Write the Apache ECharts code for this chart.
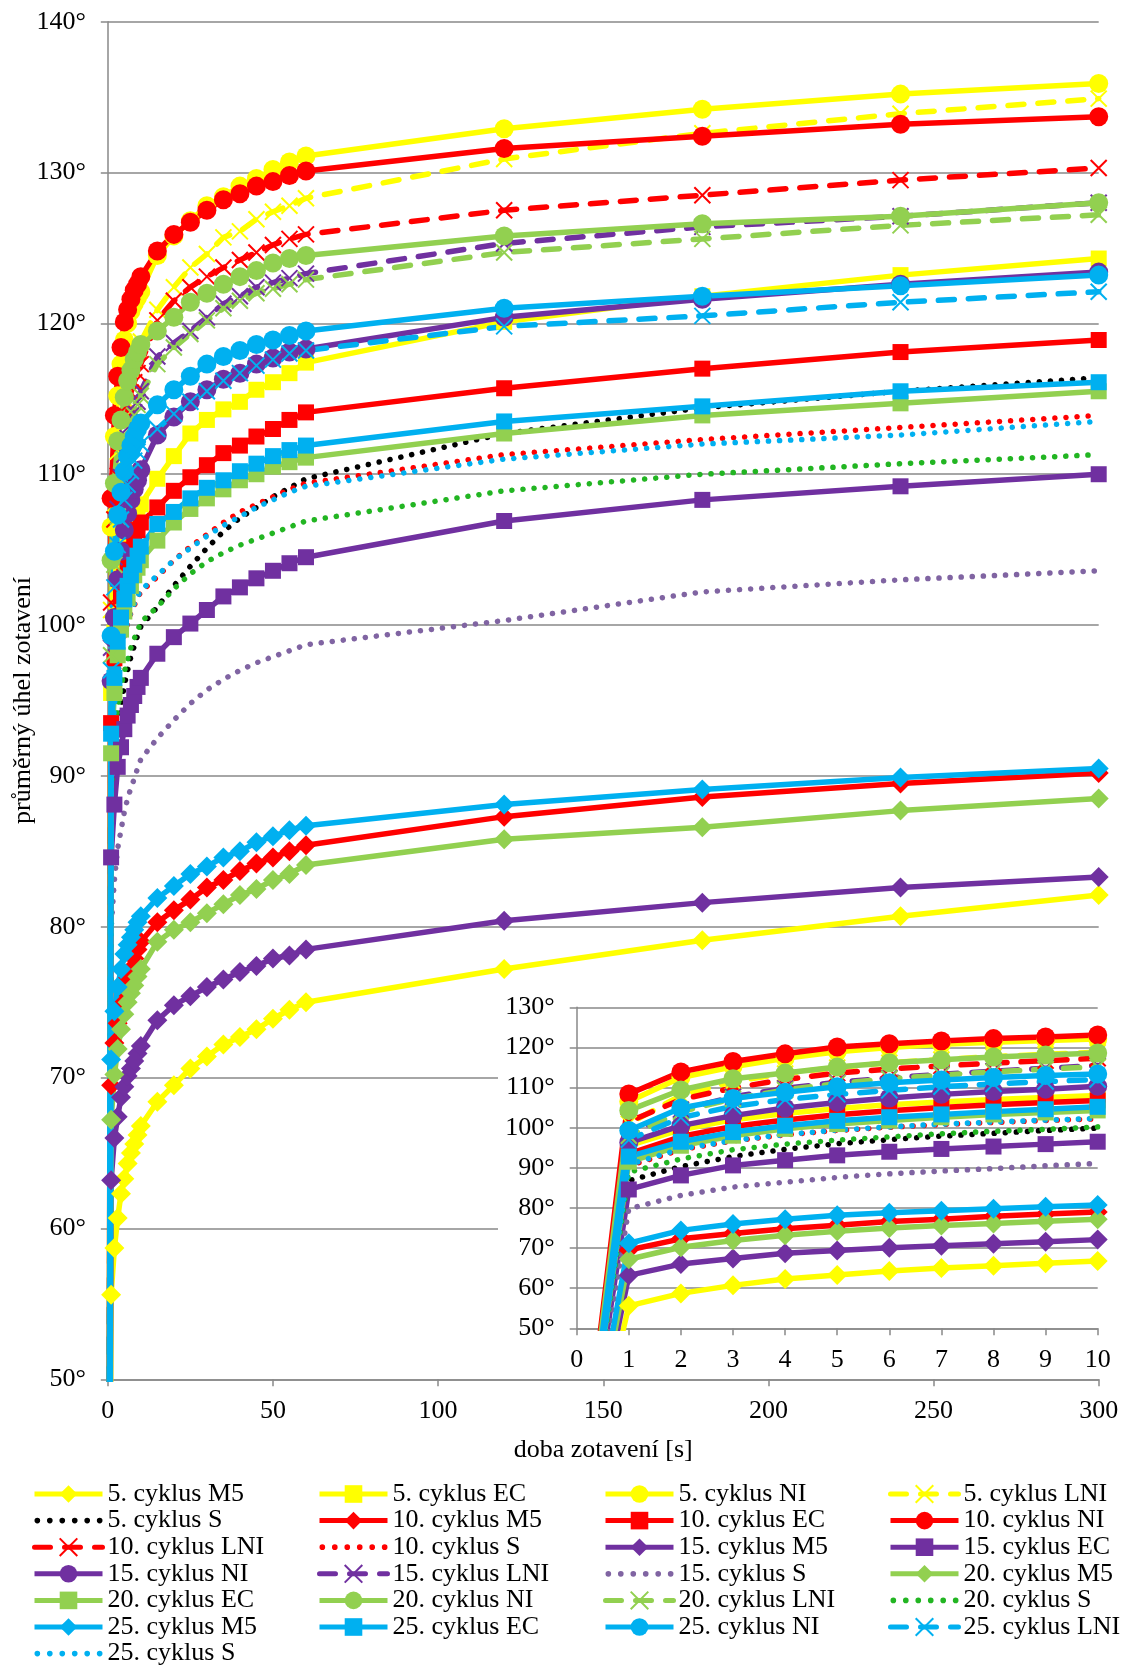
<!DOCTYPE html>
<html>
<head>
<meta charset="utf-8">
<script src="https://cdn.jsdelivr.net/npm/echarts@6/dist/echarts.min.js"></script>
<style>
html,body{margin:0;padding:0;background:#fff;}
#chart{width:1138px;height:1667px;}
</style>
</head>
<body>
<div id="chart"></div>
<script>
// time points [s]
const times = [0,1,2,3,4,5,6,7,8,9,10,15,20,25,30,35,40,45,50,55,60,120,180,240,300];

// values per series (deg), one value per time point
const c5_M5  = [0,55.6,58.7,60.7,62.3,63.3,64.3,65.0,65.6,66.2,66.8,68.4,69.5,70.6,71.4,72.2,72.7,73.2,73.9,74.5,75.0,77.2,79.1,80.7,82.1];
const c5_EC  = [0,95.5,99.5,102.0,103.5,104.8,105.7,106.4,107.0,107.5,108.0,109.7,111.2,112.7,113.6,114.3,114.8,115.6,116.1,116.7,117.4,120.1,121.8,123.2,124.3];
const c5_NI  = [0,106.5,112.5,115.2,117.3,118.9,120.0,120.8,121.3,121.7,122.1,124.5,125.8,126.8,127.8,128.4,129.1,129.6,130.2,130.7,131.1,132.9,134.2,135.2,135.9];
const c5_LNI = [0,101.0,108.0,111.5,113.5,115.0,116.2,117.0,117.7,118.3,118.8,120.9,122.4,123.7,124.6,125.7,126.1,126.9,127.4,127.8,128.3,130.9,132.6,133.9,134.9];
const c5_S   = [0,86.8,90.3,92.8,94.6,96.0,97.0,97.9,98.6,99.3,99.9,101.2,102.6,103.9,105.1,106.2,107.1,107.8,108.5,109.1,109.7,112.7,114.4,115.5,116.4];

const c10_M5  = [0,69.5,72.3,73.6,74.8,75.7,76.6,77.2,77.9,78.5,79.0,80.3,81.1,81.8,82.6,83.1,83.7,84.2,84.6,85.0,85.4,87.3,88.6,89.5,90.2];
const c10_EC  = [0,93.5,97.8,100.3,101.9,103.2,104.2,105.0,105.7,106.3,106.8,107.8,108.9,109.8,110.6,111.4,111.9,112.5,113.0,113.6,114.1,115.7,117.0,118.1,118.9];
const c10_NI  = [0,108.4,113.9,116.5,118.4,120.1,120.9,121.6,122.2,122.6,123.1,124.8,125.9,126.7,127.5,128.2,128.6,129.1,129.4,129.8,130.1,131.6,132.4,133.2,133.7];
const c10_LNI = [0,101.5,107.0,109.9,112.0,113.6,114.6,115.4,116.1,116.7,117.3,120.2,121.5,122.4,123.1,123.7,124.2,124.7,125.2,125.6,125.9,127.5,128.5,129.5,130.3];
const c10_S   = [0,90.5,94.5,96.7,98.2,99.3,100.1,100.8,101.3,101.8,102.2,103.2,104.3,105.2,106.0,106.8,107.5,108.0,108.5,109.0,109.4,111.3,112.3,113.1,113.9];

const c15_M5  = [0,63.2,66.0,67.4,68.7,69.4,70.1,70.6,71.1,71.6,72.1,73.8,74.8,75.4,76.0,76.5,77.0,77.4,77.9,78.1,78.5,80.4,81.6,82.6,83.3];
const c15_EC  = [0,84.6,88.1,90.6,91.9,93.1,94.0,94.7,95.3,95.9,96.5,98.1,99.2,100.1,101.0,101.9,102.5,103.1,103.6,104.1,104.5,106.9,108.3,109.2,110.0];
const c15_NI  = [0,96.3,100.5,103.0,104.9,106.3,107.4,108.3,109.0,109.6,110.3,112.6,113.8,114.8,115.6,116.3,116.7,117.3,117.7,118.1,118.3,120.4,121.6,122.6,123.4];
const c15_LNI = [0,98.5,104.5,107.7,109.8,111.3,112.4,113.3,114.1,114.8,115.5,117.8,118.7,119.5,120.4,121.3,121.8,122.4,122.7,123.0,123.3,125.3,126.4,127.1,128.0];
const c15_S   = [0,79.8,83.1,85.2,86.4,87.6,88.5,89.2,89.8,90.5,91.1,92.5,93.7,94.8,95.7,96.4,97.0,97.5,97.9,98.3,98.7,100.3,102.2,103.0,103.6];

const c20_M5  = [0,67.2,70.2,71.9,73.2,74.2,75.0,75.6,76.1,76.7,77.2,79.0,79.8,80.3,80.9,81.5,82.1,82.5,83.1,83.5,84.1,85.8,86.6,87.7,88.5];
const c20_EC  = [0,91.5,95.5,98.0,99.7,100.9,101.8,102.6,103.3,103.8,104.3,105.6,106.8,107.7,108.4,109.0,109.6,110.0,110.5,110.8,111.1,112.7,113.9,114.7,115.5];
const c20_NI  = [0,104.3,109.4,112.2,113.6,115.1,116.2,116.9,117.6,118.1,118.6,119.5,120.4,121.4,122.0,122.6,123.1,123.5,124.0,124.3,124.5,125.8,126.6,127.1,128.0];
const c20_LNI = [0,98.0,104.0,107.2,109.4,111.0,112.2,113.1,113.9,114.6,115.2,117.3,118.4,119.3,120.2,121.0,121.5,122.0,122.3,122.6,122.9,124.7,125.6,126.5,127.2];
const c20_S   = [0,88.9,92.2,94.5,95.9,96.9,97.7,98.5,99.1,99.6,100.2,101.2,102.4,103.4,104.2,104.8,105.3,105.7,106.1,106.5,106.9,108.9,110.0,110.7,111.3];

const c25_M5  = [0,71.2,74.4,76.0,77.2,78.2,78.8,79.3,79.8,80.3,80.7,81.9,82.7,83.5,84.0,84.6,85.0,85.6,86.0,86.4,86.7,88.1,89.1,89.9,90.5];
const c25_EC  = [0,92.8,96.5,98.9,100.5,101.7,102.6,103.3,104.0,104.6,105.2,106.7,107.5,108.4,109.1,109.6,110.2,110.7,111.2,111.6,111.9,113.5,114.5,115.5,116.1];
const c25_NI  = [0,99.3,104.9,107.3,108.8,110.2,111.2,111.9,112.5,113.0,113.4,114.6,115.6,116.5,117.3,117.8,118.2,118.6,118.9,119.2,119.5,121.0,121.8,122.5,123.2];
const c25_LNI = [0,97.0,102.5,105.3,107.0,108.3,109.3,110.2,110.9,111.5,112.0,113.0,114.0,114.8,115.5,116.2,116.7,117.2,117.6,118.0,118.2,119.8,120.5,121.4,122.1];
const c25_S   = [0,90.8,94.7,96.8,98.3,99.4,100.2,100.9,101.4,101.9,102.3,103.3,104.3,105.1,105.9,106.6,107.2,107.8,108.3,108.8,109.2,111.0,112.0,112.6,113.5];

// axis tick values
const mainYTicks = [50,60,70,80,90,100,110,120,130,140];
const mainXTicks = [0,50,100,150,200,250,300];
const insetYTicks = [50,60,70,80,90,100,110,120,130];
const insetXTicks = [0,1,2,3,4,5,6,7,8,9,10];

const YELLOW = '#FFFF00', RED = '#FF0000', PURPLE = '#7030A0', GREEN = '#92D050', BLUE = '#00B0F0';

const seriesDefs = [
  {name:'5. cyklus M5',  data:c5_M5,  color:YELLOW, kind:'M5'},
  {name:'5. cyklus EC',  data:c5_EC,  color:YELLOW, kind:'EC'},
  {name:'5. cyklus NI',  data:c5_NI,  color:YELLOW, kind:'NI'},
  {name:'5. cyklus LNI', data:c5_LNI, color:YELLOW, kind:'LNI'},
  {name:'5. cyklus S',   data:c5_S,   color:'#000000', kind:'S'},
  {name:'10. cyklus M5',  data:c10_M5,  color:RED, kind:'M5'},
  {name:'10. cyklus EC',  data:c10_EC,  color:RED, kind:'EC'},
  {name:'10. cyklus NI',  data:c10_NI,  color:RED, kind:'NI'},
  {name:'10. cyklus LNI', data:c10_LNI, color:RED, kind:'LNI'},
  {name:'10. cyklus S',   data:c10_S,   color:RED, kind:'S'},
  {name:'15. cyklus M5',  data:c15_M5,  color:PURPLE, kind:'M5'},
  {name:'15. cyklus EC',  data:c15_EC,  color:PURPLE, kind:'EC'},
  {name:'15. cyklus NI',  data:c15_NI,  color:PURPLE, kind:'NI'},
  {name:'15. cyklus LNI', data:c15_LNI, color:PURPLE, kind:'LNI'},
  {name:'15. cyklus S',   data:c15_S,   color:'#8064A2', kind:'S'},
  {name:'20. cyklus M5',  data:c20_M5,  color:GREEN, kind:'M5'},
  {name:'20. cyklus EC',  data:c20_EC,  color:GREEN, kind:'EC'},
  {name:'20. cyklus NI',  data:c20_NI,  color:GREEN, kind:'NI'},
  {name:'20. cyklus LNI', data:c20_LNI, color:GREEN, kind:'LNI'},
  {name:'20. cyklus S',   data:c20_S,   color:'#22B522', kind:'S'},
  {name:'25. cyklus M5',  data:c25_M5,  color:BLUE, kind:'M5'},
  {name:'25. cyklus EC',  data:c25_EC,  color:BLUE, kind:'EC'},
  {name:'25. cyklus NI',  data:c25_NI,  color:BLUE, kind:'NI'},
  {name:'25. cyklus LNI', data:c25_LNI, color:BLUE, kind:'LNI'},
  {name:'25. cyklus S',   data:c25_S,   color:BLUE, kind:'S'}
];

const FONT = 'Liberation Serif';
const GRAY = '#898989';
const CROSS = 'path://M0,0L10,10M10,0L0,10';
const DOTS = 'path://M0,2.5a2.5,2.5 0 1,0 5,0a2.5,2.5 0 1,0 -5,0M11,2.5a2.5,2.5 0 1,0 5,0a2.5,2.5 0 1,0 -5,0M22,2.5a2.5,2.5 0 1,0 5,0a2.5,2.5 0 1,0 -5,0M33,2.5a2.5,2.5 0 1,0 5,0a2.5,2.5 0 1,0 -5,0M44,2.5a2.5,2.5 0 1,0 5,0a2.5,2.5 0 1,0 -5,0M55,2.5a2.5,2.5 0 1,0 5,0a2.5,2.5 0 1,0 -5,0';
const LW = 5.5;

function makeSeries(def, idx) {
  let pts = times.map((t, i) => [t, def.data[i]]);
  if (idx === 1) pts = pts.filter(p => p[0] <= 10);
  const s = {
    name: def.name, type: 'line', xAxisIndex: idx, yAxisIndex: idx,
    data: pts, z: idx ? 6 : 2, clip: true, animation: false,
    color: def.color,
    emphasis: {disabled: true},
    lineStyle: {width: LW, color: def.color},
    itemStyle: {color: def.color}
  };
  if (def.kind === 'M5') { s.symbol = 'diamond'; s.symbolSize = 20; }
  else if (def.kind === 'EC') { s.symbol = 'rect'; s.symbolSize = 16; }
  else if (def.kind === 'NI') { s.symbol = 'circle'; s.symbolSize = 19; }
  else if (def.kind === 'LNI') {
    s.symbol = CROSS; s.symbolSize = 16;
    s.itemStyle = {color: 'rgba(255,255,255,0)', borderColor: def.color, borderWidth: 2};
    s.lineStyle = {width: LW, color: def.color, type: [16, 14], cap: 'round'};
  } else if (def.kind === 'S') {
    s.symbol = 'none'; s.showSymbol = false;
    s.lineStyle = {width: 5.5, color: def.color, type: [0.1, 11], cap: 'round'};
  }
  return s;
}

const series = [];
seriesDefs.forEach(d => series.push(makeSeries(d, 0)));
seriesDefs.forEach(d => series.push(makeSeries(d, 1)));

const kindOf = {};
seriesDefs.forEach(d => kindOf[d.name] = d.kind);

const legendCols = [
  ['5. cyklus M5','5. cyklus S','10. cyklus LNI','15. cyklus NI','20. cyklus EC','25. cyklus M5','25. cyklus S'],
  ['5. cyklus EC','10. cyklus M5','10. cyklus S','15. cyklus LNI','20. cyklus NI','25. cyklus EC'],
  ['5. cyklus NI','10. cyklus EC','15. cyklus M5','15. cyklus S','20. cyklus LNI','25. cyklus NI'],
  ['5. cyklus LNI','10. cyklus NI','15. cyklus EC','20. cyklus M5','20. cyklus S','25. cyklus LNI']
];
const legendLefts = [32, 317, 603, 888];

const legends = legendCols.map((names, i) => ({
  orient: 'vertical', left: legendLefts[i], top: 1481,
  itemWidth: 68, itemHeight: 22, itemGap: 0.6, padding: 0,
  selectedMode: false,
  lineStyle: {width: 5},
  textStyle: {fontFamily: FONT, fontSize: 26, color: '#000', lineHeight: 26},
  data: names.map(n => kindOf[n] === 'S' ? {name: n, icon: DOTS} : {name: n})
}));

function valAxisCommon() {
  return {
    axisLine: {show: true, lineStyle: {color: GRAY, width: 1.5}},
    axisTick: {show: true, length: 7, lineStyle: {color: GRAY, width: 1.5}},
    splitLine: {show: false},
    axisLabel: {fontFamily: FONT, fontSize: 26, color: '#000'}
  };
}

const chart = echarts.init(document.getElementById('chart'), null, {renderer: 'canvas'});
chart.setOption({
  backgroundColor: '#fff',
  animation: false,
  grid: [
    {left: 107.8, right: 39.3, top: 21.7, bottom: 287.7, containLabel: false, outerBoundsMode: 'none'},
    {left: 576.7, right: 40.3, top: 1007.3, bottom: 338.7, containLabel: false, outerBoundsMode: 'none'}
  ],
  graphic: [{
    type: 'rect', z: 3,
    shape: {x: 498, y: 985, width: 630, height: 391},
    style: {fill: '#fff'}
  }],
  xAxis: [
    Object.assign(valAxisCommon(), {
      type: 'value', gridIndex: 0, min: mainXTicks[0], max: mainXTicks[mainXTicks.length-1], interval: 50, z: 0,
      name: 'doba zotavení [s]', nameLocation: 'middle', nameGap: 58, nameMoveOverlap: false,
      nameTextStyle: {fontFamily: FONT, fontSize: 26, color: '#000'},
      axisLabel: {fontFamily: FONT, fontSize: 26, color: '#000', margin: 19}
    }),
    Object.assign(valAxisCommon(), {
      type: 'value', gridIndex: 1, min: insetXTicks[0], max: insetXTicks[insetXTicks.length-1], interval: 1, z: 5,
      axisLabel: {fontFamily: FONT, fontSize: 26, color: '#000', margin: 19}
    })
  ],
  yAxis: [
    Object.assign(valAxisCommon(), {
      type: 'value', gridIndex: 0, min: mainYTicks[0], max: mainYTicks[mainYTicks.length-1], interval: 10, z: 0,
      name: 'průměrný úhel zotavení', nameLocation: 'middle', nameGap: 72, nameRotate: 90, nameMoveOverlap: false,
      nameTextStyle: {fontFamily: FONT, fontSize: 26, color: '#000'},
      splitLine: {show: true, lineStyle: {color: GRAY, width: 1.5}},
      axisLabel: {fontFamily: FONT, fontSize: 26, color: '#000', margin: 22, formatter: v => v + '°'}
    }),
    Object.assign(valAxisCommon(), {
      type: 'value', gridIndex: 1, min: insetYTicks[0], max: insetYTicks[insetYTicks.length-1], interval: 10, z: 5,
      splitLine: {show: true, lineStyle: {color: GRAY, width: 1.5}},
      axisLabel: {fontFamily: FONT, fontSize: 26, color: '#000', margin: 22, formatter: v => v + '°'}
    })
  ],
  legend: legends,
  series: series
});
</script>
</body>
</html>
